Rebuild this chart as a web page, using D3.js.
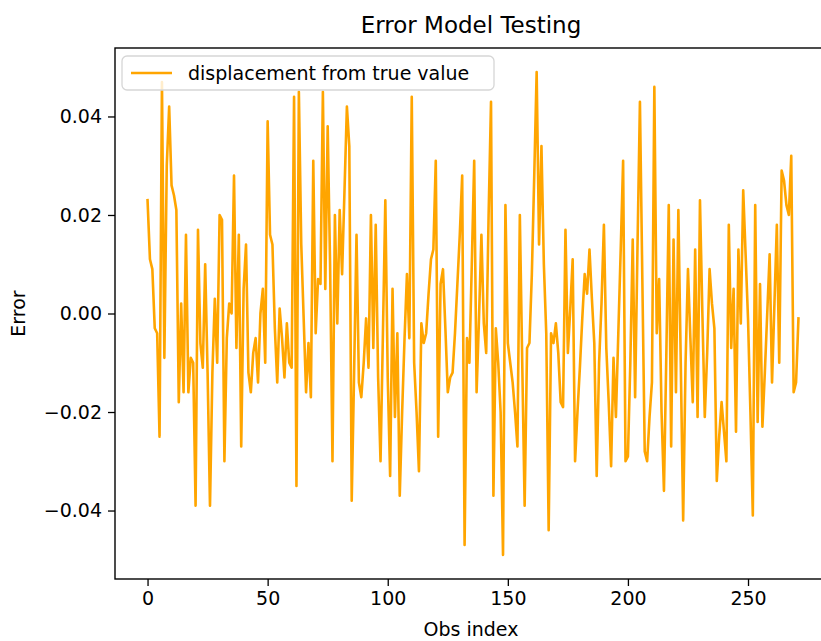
<!DOCTYPE html>
<html>
<head>
<meta charset="utf-8">
<script src="https://cdn.jsdelivr.net/npm/d3@7"></script>
<style>
  body { margin: 0; background: #fff; }
  text { font-family: "DejaVu Sans", sans-serif; fill: #000; }
</style>
</head>
<body>
<div id="canvas"></div>
<script>
var errors = [
  0.023, 0.011, 0.009, -0.003, -0.004, -0.025, 0.047, -0.009, 0.030, 0.042,
  0.026, 0.024, 0.021, -0.018, 0.002, -0.016, 0.016, -0.016, -0.009, -0.010,
  -0.039, 0.017, -0.006, -0.011, 0.010, -0.012, -0.039, -0.012, 0.003, -0.010,
  0.020, 0.019, -0.030, -0.005, 0.002, 0.000, 0.028, -0.007, 0.016, -0.027,
  0.005, 0.014, -0.012, -0.016, -0.008, -0.005, -0.014, 0.000, 0.005, -0.010,
  0.039, 0.016, 0.014, -0.003, -0.014, 0.001, -0.005, -0.013, -0.002, -0.010,
  -0.011, 0.044, -0.035, 0.045, 0.014, -0.001, -0.016, -0.006, -0.017, 0.031,
  -0.004, 0.007, 0.006, 0.045, 0.005, 0.038, 0.010, -0.030, 0.020, -0.002,
  0.021, 0.008, 0.025, 0.042, 0.034, -0.038, -0.012, 0.016, -0.014, -0.017,
  -0.010, -0.001, -0.011, 0.020, -0.007, 0.018, -0.013, -0.030, -0.004, 0.023,
  -0.013, -0.033, 0.005, -0.021, -0.004, -0.037, -0.020, -0.005, 0.008, -0.005,
  0.044, -0.010, -0.020, -0.032, -0.002, -0.006, -0.004, 0.004, 0.011, 0.013,
  0.031, -0.025, 0.006, 0.009, -0.003, -0.016, -0.013, -0.012, -0.004, 0.006,
  0.016, 0.028, -0.047, -0.005, -0.010, 0.010, 0.031, -0.016, -0.001, 0.016,
  -0.002, -0.008, 0.020, 0.043, -0.037, -0.003, -0.010, -0.020, -0.049, 0.022,
  -0.006, -0.010, -0.014, -0.020, -0.027, 0.020, -0.010, -0.039, -0.007, -0.006,
  0.008, 0.028, 0.049, 0.014, 0.034, 0.010, -0.004, -0.044, -0.004, -0.006,
  -0.002, -0.008, -0.018, -0.019, 0.017, -0.008, 0.001, 0.011, -0.030, -0.020,
  -0.011, -0.001, 0.008, 0.004, 0.013, 0.003, -0.006, -0.033, -0.010, 0.002,
  0.018, -0.007, -0.018, -0.031, -0.009, -0.021, -0.004, 0.013, 0.031, -0.030,
  -0.029, -0.010, 0.015, -0.017, 0.014, 0.043, 0.007, -0.028, -0.030, -0.021,
  -0.014, 0.046, -0.004, 0.007, -0.020, -0.036, -0.008, 0.022, -0.027, 0.015,
  -0.016, 0.021, -0.010, -0.042, -0.010, 0.009, -0.005, -0.018, 0.013, -0.021,
  0.023, 0.000, -0.021, -0.008, 0.009, 0.002, -0.003, -0.034, -0.025, -0.018,
  -0.024, -0.030, 0.018, -0.007, 0.005, -0.024, 0.013, -0.002, 0.025, 0.012,
  -0.001, -0.020, -0.041, 0.022, -0.022, 0.006, -0.023, -0.012, 0.000, 0.012,
  -0.014, 0.002, 0.018, -0.010, 0.029, 0.027, 0.022, 0.020, 0.032, -0.016,
  -0.014, -0.001
];
var xTicks = [0, 50, 100, 150, 200, 250];
var yTicks = [-0.04, -0.02, 0.00, 0.02, 0.04];
var chartTitle = "Error Model Testing";
var xLabel = "Obs index";
var yLabel = "Error";
var seriesName = "displacement from true value";

draw();

function draw(){
	var w = 821,
	    h = 641;
	var left = 115, top = 48, right = 831, bottom = 579;

	var svg = d3.select("#canvas").append("svg")
				.attr("width", w)
				.attr("height", h)
				.style("display", "block")
				.style("overflow", "hidden");

	// matplotlib style 5% margins
	var n = errors.length - 1;
	var xScale = d3.scaleLinear()
					.domain([-0.05 * n, n * 1.05])
					.range([left, right]);
	var lo = d3.min(errors), hi = d3.max(errors), pad = (hi - lo) * 0.05;
	var yScale = d3.scaleLinear()
					.domain([lo - pad, hi + pad])
					.range([bottom, top]);

	svg.append("clipPath").attr("id", "plotclip")
		.append("rect")
		.attr("x", left).attr("y", top)
		.attr("width", right - left).attr("height", bottom - top);

	var line = d3.line()
		.x(function(d, i){ return xScale(i); })
		.y(function(d){ return yScale(d); });

	svg.append("path")
		.datum(errors)
		.attr("clip-path", "url(#plotclip)")
		.attr("d", line)
		.attr("fill", "none")
		.attr("stroke", "#ffa500")
		.attr("stroke-width", 2.6)
		.attr("stroke-linejoin", "round")
		.attr("stroke-linecap", "square");

	// axes
	var xAxis = d3.axisBottom(xScale).tickValues(xTicks).tickSize(7).tickPadding(6)
		.tickFormat(d3.format("d"));
	var yAxis = d3.axisLeft(yScale).tickValues(yTicks).tickSize(7).tickPadding(6)
		.tickFormat(d3.format(".2f"));

	var gx = svg.append("g").attr("transform", "translate(0," + bottom + ")").call(xAxis);
	var gy = svg.append("g").attr("transform", "translate(" + left + ",0)").call(yAxis);
	[gx, gy].forEach(function(g){
		g.select(".domain").remove();
		g.selectAll("line").attr("stroke", "#000").attr("stroke-width", 1.3);
		g.selectAll("text").attr("font-size", 19).attr("font-family", "DejaVu Sans").attr("fill", "#222");
	});

	// frame
	svg.append("rect")
		.attr("x", left).attr("y", top)
		.attr("width", right - left).attr("height", bottom - top)
		.attr("fill", "none").attr("stroke", "#000").attr("stroke-width", 1.4);

	// labels
	svg.append("text")
		.attr("x", 471).attr("y", 33)
		.attr("text-anchor", "middle")
		.attr("font-size", 23)
		.attr("fill", "#222")
		.text(chartTitle);
	svg.append("text")
		.attr("x", 471).attr("y", 636)
		.attr("text-anchor", "middle")
		.attr("font-size", 19)
		.attr("fill", "#222")
		.text(xLabel);
	svg.append("text")
		.attr("transform", "translate(25," + ((top + bottom) / 2) + ") rotate(-90)")
		.attr("text-anchor", "middle")
		.attr("font-size", 19)
		.attr("fill", "#222")
		.text(yLabel);

	// legend
	var lg = svg.append("g").attr("transform", "translate(122,56)");
	lg.append("rect")
		.attr("x", 0).attr("y", 0)
		.attr("width", 372).attr("height", 34)
		.attr("rx", 5)
		.attr("fill", "#fff").attr("fill-opacity", 0.8)
		.attr("stroke", "#d6d6d6").attr("stroke-width", 1.3);
	lg.append("line")
		.attr("x1", 9).attr("x2", 50).attr("y1", 17).attr("y2", 17)
		.attr("stroke", "#ffa500").attr("stroke-width", 2.6);
	lg.append("text")
		.attr("x", 66).attr("y", 23.5)
		.attr("font-size", 19)
		.attr("fill", "#222")
		.text(seriesName);
}
</script>
</body>
</html>
